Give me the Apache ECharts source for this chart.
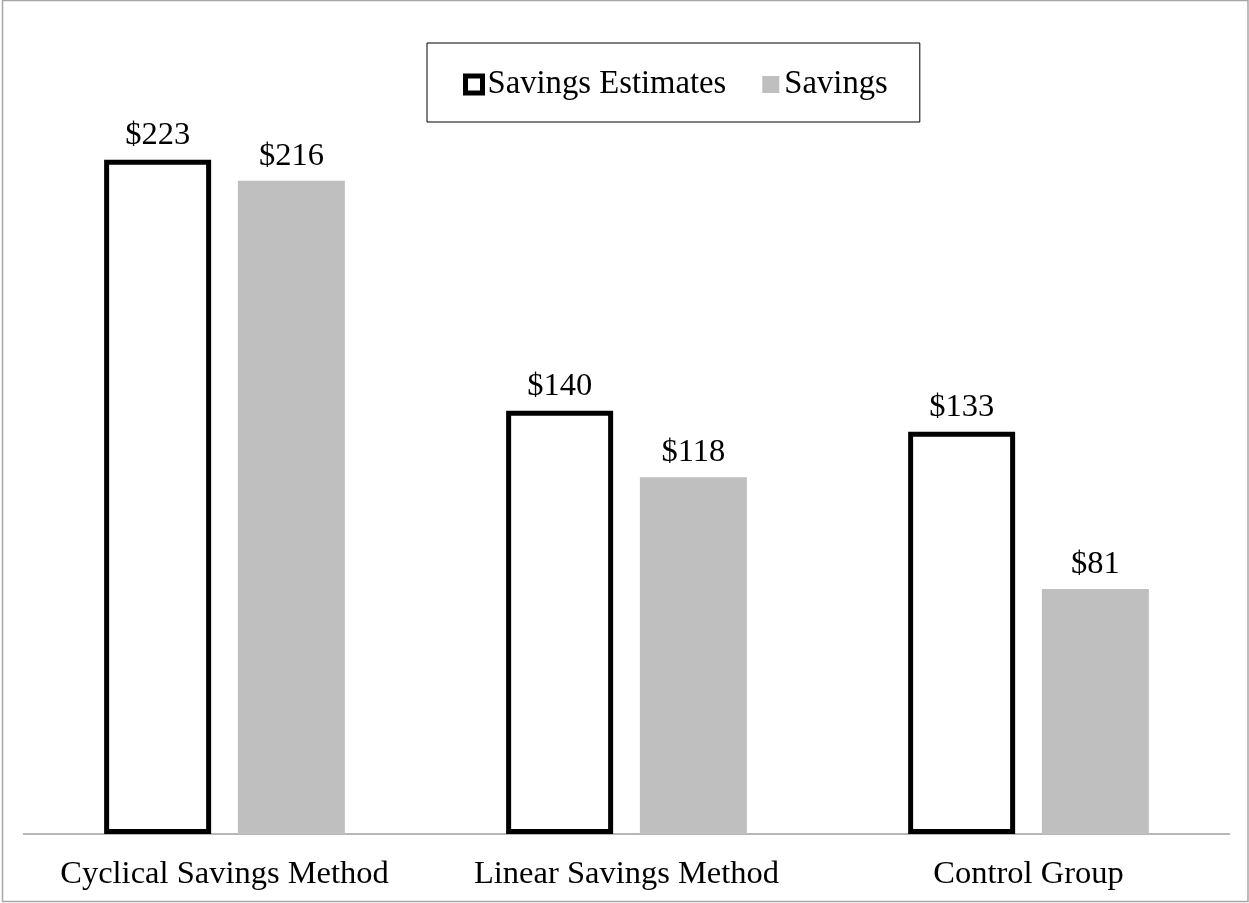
<!DOCTYPE html>
<html>
<head>
<meta charset="utf-8">
<title>Savings by Method</title>
<script src="https://cdn.jsdelivr.net/npm/echarts@6/dist/echarts.min.js"></script>
<style>
  html, body { margin: 0; padding: 0; background: #fff; }
  #chart { width: 1249px; height: 903px; }
</style>
</head>
<body>
<div id="chart"></div>
<script>
// Categories and values
var categories = ['Cyclical Savings Method', 'Linear Savings Method', 'Control Group'];
var savingsEstimates = [223, 140, 133];
var savings = [216, 118, 81];
var seriesNames = ['Savings Estimates', 'Savings'];

var FONT = '"Liberation Serif", "Times New Roman", serif';

var chart = echarts.init(document.getElementById('chart'), null, { renderer: 'canvas' });

var labelStyle = {
  show: true,
  position: 'top',
  distance: 8,
  fontFamily: FONT,
  fontSize: 32.5,
  color: '#000',
  formatter: function (p) { return '$' + p.value; }
};

chart.setOption({
  backgroundColor: '#fff',
  animation: false,
  graphic: [{
    type: 'rect',
    shape: { x: 2.5, y: 0.5, width: 1245.5, height: 901 },
    style: { fill: 'none', stroke: '#a6a6a6', lineWidth: 1.5 },
    silent: true,
    z: 100
  }],
  legend: {
    left: 427,
    top: 43,
    padding: [25, 32, 21, 36],
    borderColor: '#000',
    borderWidth: 1,
    itemGap: 36,
    itemWidth: 17,
    itemHeight: 17,
    icon: 'rect',
    textStyle: { fontFamily: FONT, fontSize: 32.7, color: '#000' },
    data: [
      { name: seriesNames[0], itemStyle: { color: '#fff', borderColor: '#000', borderWidth: 5 } },
      { name: seriesNames[1], itemStyle: { color: '#bfbfbf', borderWidth: 0 } }
    ]
  },
  grid: { left: 23.5, right: 19.5, top: 78, bottom: 69, containLabel: false },
  xAxis: {
    type: 'category',
    data: categories,
    axisLine: { show: true, lineStyle: { color: '#a0a0a0', width: 1.5 } },
    axisTick: { show: false },
    axisLabel: { interval: 0, margin: 24, fontFamily: FONT, fontSize: 32.5, color: '#000' },
    splitLine: { show: false }
  },
  yAxis: {
    type: 'value',
    min: 0,
    max: 250,
    show: false,
    splitLine: { show: false }
  },
  series: [
    {
      name: seriesNames[0],
      type: 'bar',
      data: savingsEstimates,
      barWidth: 107,
      barGap: '25%',
      itemStyle: { color: '#fff', borderColor: '#000', borderWidth: 5 },
      label: labelStyle
    },
    {
      name: seriesNames[1],
      type: 'bar',
      data: savings,
      barWidth: 107,
      barGap: '25%',
      itemStyle: { color: '#bfbfbf' },
      label: labelStyle
    }
  ]
});
</script>
</body>
</html>
